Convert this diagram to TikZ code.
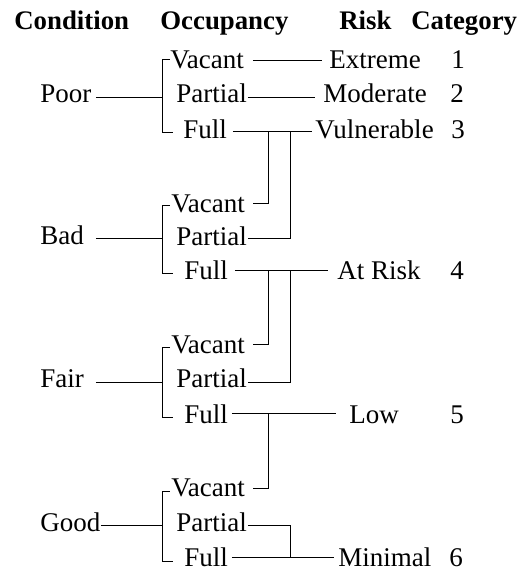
\documentclass[tikz,border=0pt]{standalone}
\usepackage{fontspec}
\setmainfont{Liberation Serif}
\begin{document}
\begin{tikzpicture}[x=0.5pt,y=-0.5pt,
  txt/.style={anchor=base west,inner sep=0pt,font=\fontsize{13.5}{15}\selectfont},
  hd/.style={anchor=base west,inner sep=0pt,font=\fontsize{13.4}{15}\selectfont\bfseries},
  ln/.style={line width=0.5pt}]
\useasboundingbox (0,0) rectangle (519,570);
% headers
\node[hd] (hcond) at (14,29) {Condition};
\node[hd] (hocc) at (160,29) {Occupancy};
\node[hd] (hrisk) at (339,29) {Risk};
\node[hd] (hcat) at (411,29) {Category};
% conditions
\node[txt] (poor) at (40,102) {Poor};
\node[txt] (bad) at (40,244) {Bad};
\node[txt] (fair) at (40,387) {Fair};
\node[txt] (good) at (40,531) {Good};
% occupancy
\node[txt] (pv) at (170,68) {Vacant};
\node[txt] (pp) at (176,102) {Partial};
\node[txt] (pf) at (183,138) {Full};
\node[txt] (bv) at (171,212) {Vacant};
\node[txt] (bp) at (176,245) {Partial};
\node[txt] (bf) at (184,279) {Full};
\node[txt] (fv) at (171,353) {Vacant};
\node[txt] (fp) at (176,387) {Partial};
\node[txt] (ff) at (184,423) {Full};
\node[txt] (gv) at (171,496) {Vacant};
\node[txt] (gp) at (176,531) {Partial};
\node[txt] (gf) at (184,566) {Full};
% risk
\node[txt] (extreme) at (329,68) {Extreme};
\node[txt] (moderate) at (323,102) {Moderate};
\node[txt] (vulnerable) at (315,138) {Vulnerable};
\node[txt] (atrisk) at (337,279) {At Risk};
\node[txt] (low) at (349,423) {Low};
\node[txt] (minimal) at (338,566) {Minimal};
% categories
\node[txt] (c1) at (451,68) {1};
\node[txt] (c2) at (450,102) {2};
\node[txt] (c3) at (451,138) {3};
\node[txt] (c4) at (450,279) {4};
\node[txt] (c5) at (450,423) {5};
\node[txt] (c6) at (449,566) {6};
% brackets
\draw[ln] (170,59) -| (163,132) -- (173,132);
\draw[ln] (170,205) -| (163,273) -- (173,273);
\draw[ln] (170,347) -| (163,417) -- (173,417);
\draw[ln] (170,491) -| (163,561) -- (173,561);
% condition lines
\draw[ln] (96,97) -- (163,97);
\draw[ln] (96,238) -- (163,238);
\draw[ln] (96,382) -- (163,382);
\draw[ln] (101,525) -- (163,525);
% poor
\draw[ln] (253,60) -- (322,60);
\draw[ln] (248,97) -- (315,97);
\draw[ln] (233,131) -- (312,131);
\draw[ln] (269,131) |- (253,203);
\draw[ln] (291,131) |- (248,238);
% bad
\draw[ln] (235,270) -- (328,270);
\draw[ln] (269,270) |- (253,344);
\draw[ln] (291,270) |- (248,382);
% fair
\draw[ln] (232,413) -- (336,413);
\draw[ln] (269,413) |- (253,488);
% good
\draw[ln] (248,525) -| (291,557);
\draw[ln] (232,557) -- (334,557);
\end{tikzpicture}
\end{document}
